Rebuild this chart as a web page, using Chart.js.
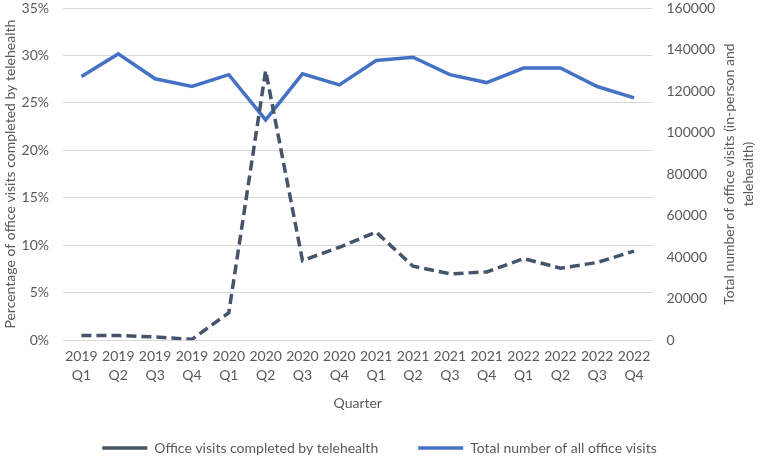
<!DOCTYPE html>
<html>
<head>
<meta charset="utf-8">
<script src="https://cdn.jsdelivr.net/npm/chart.js@4.4.0/dist/chart.umd.min.js"></script>
<style>
  html, body { margin: 0; padding: 0; background: #fff; }
  #wrap { width: 760px; height: 460px; }
</style>
</head>
<body>
<div id="wrap"><canvas id="visitsChart" width="760" height="460"></canvas></div>
<script>
const quarters = [
  ['2019', 'Q1'], ['2019', 'Q2'], ['2019', 'Q3'], ['2019', 'Q4'],
  ['2020', 'Q1'], ['2020', 'Q2'], ['2020', 'Q3'], ['2020', 'Q4'],
  ['2021', 'Q1'], ['2021', 'Q2'], ['2021', 'Q3'], ['2021', 'Q4'],
  ['2022', 'Q1'], ['2022', 'Q2'], ['2022', 'Q3'], ['2022', 'Q4']
];
// percent of office visits done by telehealth
const telehealthPct = [0.5, 0.5, 0.35, 0.1, 2.9, 28.4, 8.4, 9.8, 11.4, 7.8, 7.0, 7.2, 8.6, 7.6, 8.2, 9.4];
// all office visits (in-person + telehealth)
const totalVisits = [127000, 137900, 125900, 122200, 127900, 106100, 128300, 123000,
  134700, 136300, 127900, 124100, 131100, 131100, 122200, 116700];

const leftTicks = { min: 0, max: 35, step: 5 };
const rightTicks = { min: 0, max: 160000, step: 20000 };
const rightTitle = ['Total number of office visits (in-person and', 'telehealth)'];

const font = { family: 'Lato, "Open Sans", sans-serif', size: 14, lineHeight: 1.35 };
const grey = '#595959';

// Chart.js turns a right-hand title top-to-bottom; the original reads bottom-to-top,
// so the space is kept by a transparent title and the text is drawn here.
const rightTitlePlugin = {
  id: 'rightTitle',
  afterDraw(chart) {
    const s = chart.scales.y1;
    const c = chart.ctx;
    const lh = font.size * font.lineHeight;
    const pad = s.options.title.padding.bottom || 0;
    const yMid = (chart.chartArea.top + chart.chartArea.bottom) / 2;
    c.save();
    c.fillStyle = grey;
    c.font = font.size + 'px ' + font.family;
    c.textAlign = 'center';
    c.textBaseline = 'middle';
    rightTitle.forEach((line, i) => {
      const x = s.right - pad - lh * (rightTitle.length - i - 0.5);
      c.save();
      c.translate(x, yMid);
      c.rotate(-Math.PI / 2);
      c.fillText(line, 0, 0);
      c.restore();
    });
    c.restore();
  }
};

// fixed axis widths so the plot sits where the original has it;
// tick padding would also push the plot down from the top edge
const fitAxis = (width) => (s) => {
  s.width = width;
  s.paddingTop = 0;
  s.paddingBottom = 0;
};

const ctx = document.getElementById('visitsChart').getContext('2d');
new Chart(ctx, {
  type: 'line',
  data: {
    labels: quarters,
    datasets: [
      {
        label: 'Office visits completed by telehealth',
        data: telehealthPct,
        yAxisID: 'y',
        borderColor: '#44546A',
        backgroundColor: '#44546A',
        borderWidth: 3.5,
        borderDash: [10, 5],
        pointRadius: 0,
        tension: 0
      },
      {
        label: 'Total number of all office visits',
        data: totalVisits,
        yAxisID: 'y1',
        borderColor: '#4472C4',
        backgroundColor: '#4472C4',
        borderWidth: 3.5,
        pointRadius: 0,
        tension: 0
      }
    ]
  },
  options: {
    responsive: false,
    animation: false,
    layout: { padding: { top: 8, left: 0, right: 1, bottom: -5 } },
    plugins: {
      tooltip: { enabled: false },
      legend: {
        position: 'bottom',
        labels: {
          usePointStyle: true,
          pointStyle: 'line',
          pointStyleWidth: 45,
          boxHeight: 14,
          padding: 40,
          color: grey,
          font: font
        }
      }
    },
    scales: {
      x: {
        offset: true,
        grid: { display: false, drawTicks: false },
        border: { display: false },
        ticks: { color: grey, font: font, maxRotation: 0, autoSkip: false, padding: 6.5 },
        title: { display: true, text: 'Quarter', color: grey, font: font, padding: { top: 3, bottom: -12 } }
      },
      y: {
        position: 'left',
        min: leftTicks.min,
        max: leftTicks.max,
        afterFit: fitAxis(63),
        grid: { color: '#d9d9d9', lineWidth: 1, drawTicks: false },
        border: { display: false },
        ticks: {
          stepSize: leftTicks.step,
          color: grey,
          font: font,
          padding: 14,
          callback: (v) => v + '%'
        },
        title: { display: true, text: 'Percentage of office visits completed by telehealth', color: grey, font: font, padding: 1 }
      },
      y1: {
        position: 'right',
        min: rightTicks.min,
        max: rightTicks.max,
        afterFit: fitAxis(106.5),
        grid: { display: false, drawTicks: false },
        border: { display: false },
        ticks: { stepSize: rightTicks.step, color: grey, font: font, padding: 14, callback: (v) => String(v) },
        title: { display: true, text: rightTitle, color: 'rgba(0,0,0,0)', font: font, padding: { top: 7, bottom: 1 } }
      }
    }
  },
  plugins: [rightTitlePlugin]
});
</script>
</body>
</html>
